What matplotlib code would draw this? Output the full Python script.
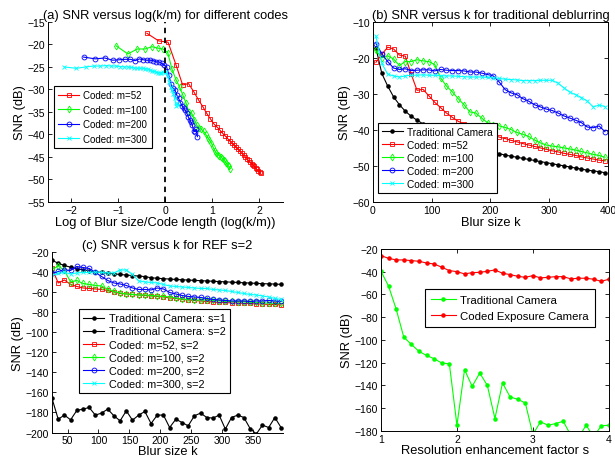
import numpy as np
import matplotlib
matplotlib.use('Agg')
import matplotlib.pyplot as plt

plt.rcParams["font.family"] = "Liberation Sans"
plt.rcParams["font.size"] = 9
plt.rcParams["axes.linewidth"] = 0.7

# blur sizes used for panel (b) (and (a) from k=35 on)
k_b = np.arange(5, 400, 10)
m_values = [52, 100, 200, 300]

trad_b = [-17.2, -24.3, -27.8, -30.8, -33.0, -34.8, -36.2, -37.3, -38.3, -39.2,
          -40.0, -40.7, -41.4, -42.0, -42.6, -43.1, -43.6, -44.1, -45.3, -45.8,
          -46.2, -46.6, -47.0, -47.3, -47.6, -47.9, -48.2, -48.5, -48.8, -49.1,
          -49.4, -49.7, -50.0, -50.3, -50.6, -50.9, -51.2, -51.4, -51.6, -51.9]
red_b = [-21.2, -19.0, -17.0, -17.5, -19.2, -19.5, -24.5, -29.0, -28.7, -30.5,
         -32.3, -33.8, -35.3, -36.5, -37.6, -38.3, -39.0, -39.7, -40.3, -40.9,
         -41.5, -42.0, -42.4, -42.9, -43.3, -43.8, -44.2, -44.6, -45.0, -45.4,
         -45.8, -46.1, -46.5, -46.8, -47.1, -47.5, -47.8, -48.1, -48.4, -48.6]
green_b = [-17.9, -20.0, -19.4, -20.3, -22.1, -21.0, -21.0, -20.5, -20.8, -21.0,
           -21.8, -25.5, -27.8, -29.4, -31.3, -33.0, -35.0, -35.3, -36.7, -38.0,
           -38.5, -38.9, -39.3, -39.9, -40.7, -41.2, -41.8, -42.8, -43.6, -44.2,
           -44.5, -44.7, -45.0, -45.3, -45.6, -46.0, -46.4, -46.8, -47.1, -47.6]
blue_b = [-16.0, -18.8, -21.0, -22.8, -23.2, -23.0, -23.5, -23.4, -23.3, -23.3,
          -23.6, -23.2, -23.4, -23.5, -23.5, -23.6, -23.9, -23.9, -24.2, -24.6,
          -25.0, -26.7, -28.8, -29.7, -30.2, -31.3, -32.0, -33.0, -33.6, -34.2,
          -34.6, -35.3, -36.1, -36.7, -37.3, -38.0, -39.2, -39.4, -38.9, -40.5]
cyan_b = [-14.0, -21.5, -24.5, -25.0, -25.3, -25.0, -24.8, -24.8, -24.7, -24.8,
          -24.8, -24.9, -25.0, -25.0, -25.1, -25.2, -25.3, -25.3, -25.3, -25.4,
          -25.5, -25.7, -25.9, -26.0, -26.1, -26.3, -26.3, -26.3, -26.2, -26.2,
          -26.2, -27.0, -28.3, -29.5, -30.2, -31.0, -32.0, -33.6, -33.1, -33.5]

# panel (c), REF s=2
k_c = np.arange(25, 400, 10)
trad_s2 = [-166, -186.7, -182.6, -187.3, -178, -176.6, -175, -182.6, -180.6, -176.6,
           -183.3, -188.3, -178.3, -187.7, -182.6, -179, -191, -182.6, -182.6, -195,
           -186.7, -190, -193.3, -183.3, -180.6, -185, -185.6, -182.6, -196.6, -185,
           -182.6, -185, -196, -201.5, -192.6, -195, -185, -195]
red_c = [-36, -50.5, -47.5, -52, -54, -55.5, -56, -56.5, -57, -58,
         -59.5, -61, -61.5, -62, -62.5, -63, -63.5, -64, -64.5, -65.5,
         -66, -67, -67.5, -68, -68.5, -69, -69.5, -70, -70, -70.5,
         -70.5, -71, -71, -71.5, -71.5, -72, -72, -72.5]
green_c = [-37, -33.5, -38, -49.5, -48, -51, -52, -53, -53.5, -57,
           -59, -60.5, -61.5, -62, -62.5, -62.5, -63, -63.5, -64, -64.5,
           -65.5, -66.5, -67, -67.5, -67.5, -67.5, -68, -68.5, -69, -69,
           -69.5, -69.5, -70, -70, -70.5, -70.5, -71, -71]
blue_c = [-41, -39, -37.5, -38, -34, -35, -36, -40, -44, -48,
          -50.5, -51.5, -53, -55.5, -57, -57, -57.5, -55.5, -56.5, -60,
          -61.5, -63, -64, -64.5, -65, -66, -67, -67.5, -68, -68.5,
          -68.5, -68.5, -69, -68.5, -68.5, -68, -68.5, -69]
cyan_c = [-43, -41, -40, -41.5, -40.5, -40, -40, -39.5, -40, -40.5,
          -40.5, -37.5, -37.5, -42, -48.5, -49.5, -50, -50.5, -52, -53.5,
          -54, -54.5, -55, -55.5, -56, -56, -57, -57.5, -58, -59,
          -60, -61, -62, -62.5, -63.5, -64.5, -66, -67]

# panel (d), resolution enhancement factor
s_d = np.round(np.arange(1.0, 4.05, 0.1), 1)
trad_d = [-39.6, -52.7, -72.9, -97.5, -103.9, -110, -113.6, -116.5, -120.3, -120.9,
          -175, -126.1, -140.8, -129.1, -139.9, -169.1, -137.8, -150.1, -152.2, -155.4,
          -183, -172, -175, -173.5, -171.5, -184, -186, -175, -185, -175.5, -175]
coded_d = [-25.8, -28.2, -29.6, -29.6, -30.2, -30.8, -32.3, -33.2, -36, -39,
           -39.9, -41.9, -40.8, -40.5, -39.6, -38.4, -41.3, -42.5, -44, -44.9,
           -43.4, -45.4, -44.9, -44.3, -44.3, -46.3, -45.7, -45.7, -46.6, -48.4, -46.6]

colors = ['r', (0, 1, 0), 'b', (0, 1, 1)]
markers = ['s', 'd', 'o', 'x']


def main():
    fig = plt.figure(figsize=(6.15, 4.6), dpi=100)
    ax_a = fig.add_axes([0.078, 0.559, 0.382, 0.391])
    ax_b = fig.add_axes([0.6065, 0.559, 0.382, 0.391])
    ax_c = fig.add_axes([0.0846, 0.0576, 0.3754, 0.3914])
    ax_d = fig.add_axes([0.6195, 0.061, 0.3705, 0.3955])
    plot_a(ax_a)
    plot_b(ax_b)
    plot_c(ax_c)
    plot_d(ax_d)
    fig.savefig('out.png', dpi=100)


def style_axes(ax, box):
    ax.tick_params(direction='in', length=3, width=0.6, labelsize=7.5,
                   top=box, right=box, pad=2)
    if not box:
        ax.spines['top'].set_visible(False)
        ax.spines['right'].set_visible(False)


def make_legend(ax, loc, anchor, size, handle_px, spacing, pad):
    # handle length given in pixels (dpi 100 -> 0.72 pt per px)
    leg = ax.legend(loc=loc, bbox_to_anchor=anchor, borderaxespad=0,
                    fontsize=size, fancybox=False, framealpha=1,
                    edgecolor='k', handlelength=handle_px * 0.72 / size,
                    labelspacing=spacing, borderpad=pad, handletextpad=0.4)
    leg.get_frame().set_linewidth(0.8)


def plot_a(ax):
    series = [red_b, green_b, blue_b, cyan_b]
    k = k_b[3:]
    for m, y, c, mk in zip(m_values, series, colors, markers):
        ax.plot(np.log(k / m), y[3:], color=c, marker=mk, ms=3.5, mfc='none',
                mew=0.6, lw=0.8, label='Coded: m=%d' % m)
    ax.axvline(0, color='k', ls='--', lw=1.3, dashes=(3, 2.5))
    ax.set_xlim(-2.5, 2.5)
    ax.set_ylim(-55, -15)
    ax.set_xticks([-2, -1, 0, 1, 2])
    ax.set_yticks(np.arange(-55, -14, 5))
    ax.set_title('(a) SNR versus log(k/m) for different codes', fontsize=9.3, pad=3)
    ax.set_xlabel('Log of Blur size/Code length (log(k/m))', fontsize=9.3, labelpad=1)
    ax.set_ylabel('SNR (dB)', fontsize=9.3, labelpad=1)
    style_axes(ax, False)
    make_legend(ax, 'upper left', (0.026, 0.644), 7.0, 21, 0.45, 0.45)


def plot_b(ax):
    ax.plot(k_b, trad_b, color='k', marker='.', ms=4.5, lw=0.8, label='Traditional Camera')
    series = [red_b, green_b, blue_b, cyan_b]
    for m, y, c, mk in zip(m_values, series, colors, markers):
        ax.plot(k_b, y, color=c, marker=mk, ms=3.5, mfc='none', mew=0.6, lw=0.8,
                label='Coded: m=%d' % m)
    ax.set_xlim(0, 400)
    ax.set_ylim(-60, -10)
    ax.set_xticks([0, 100, 200, 300, 400])
    ax.set_yticks(np.arange(-60, -9, 10))
    ax.set_title('(b) SNR versus k for traditional deblurring', fontsize=9.3, pad=3)
    ax.set_xlabel('Blur size k', fontsize=9.3, labelpad=1)
    ax.set_ylabel('SNR (dB)', fontsize=9.3, labelpad=1)
    style_axes(ax, True)
    make_legend(ax, 'lower left', (0.021, 0.05), 7.3, 21, 0.3, 0.4)


def plot_c(ax):
    ax.plot(k_c, trad_b[2:], color='k', marker='.', ms=4.5, lw=0.8,
            label='Traditional Camera: s=1')
    ax.plot(k_c, trad_s2, color='k', marker='.', ms=4.5, lw=0.8,
            label='Traditional Camera: s=2')
    series = [red_c, green_c, blue_c, cyan_c]
    for m, y, c, mk in zip(m_values, series, colors, markers):
        ax.plot(k_c, y, color=c, marker=mk, ms=3.5, mfc='none', mew=0.6, lw=0.8,
                label='Coded: m=%d, s=2' % m)
    ax.set_xlim(25, 398)
    ax.set_ylim(-200, -20)
    ax.set_xticks([50, 100, 150, 200, 250, 300, 350])
    ax.set_yticks(np.arange(-200, -19, 20))
    ax.set_title('(c) SNR versus k for REF s=2', fontsize=9.3, pad=3)
    ax.set_xlabel('Blur size k', fontsize=9.3, labelpad=0)
    ax.set_ylabel('SNR (dB)', fontsize=9.3, labelpad=1)
    style_axes(ax, False)
    make_legend(ax, 'upper left', (0.117, 0.686), 7.8, 21, 0.28, 0.4)


def plot_d(ax):
    ax.plot(s_d, trad_d, color=(0, 1, 0), marker='.', ms=4.5, lw=0.8,
            label='Traditional Camera')
    ax.plot(s_d, coded_d, color='r', marker='.', ms=4.5, lw=0.8,
            label='Coded Exposure Camera')
    ax.set_xlim(1, 4)
    ax.set_ylim(-180, -20)
    ax.set_xticks([1, 2, 3, 4])
    ax.set_yticks(np.arange(-180, -19, 20))
    ax.set_xlabel('Resolution enhancement factor s', fontsize=9.3, labelpad=0)
    ax.set_ylabel('SNR (dB)', fontsize=9.3, labelpad=1)
    style_axes(ax, True)
    make_legend(ax, 'upper left', (0.193, 0.78), 8.2, 25, 0.55, 0.5)


if __name__ == '__main__':
    main()
